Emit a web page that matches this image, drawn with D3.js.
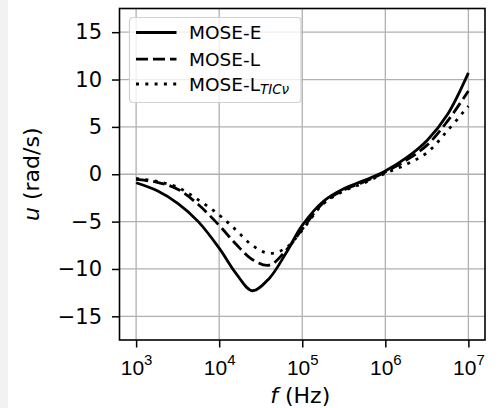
<!DOCTYPE html>
<html>
<head>
<meta charset="utf-8">
<script src="https://cdn.jsdelivr.net/npm/d3@7"></script>
<style>
  html, body { margin: 0; padding: 0; background: #ffffff; }
  svg { display: block; font-family: "DejaVu Sans", sans-serif; }
</style>
</head>
<body>
<svg id="chart" width="502" height="408"></svg>
<script>
// ---- data ----
const freqs = [1e3, 1.8e3, 3.2e3, 5.6e3, 1e4, 1.6e4, 2.5e4, 4e4, 6.3e4, 1e5,
               1.8e5, 3.2e5, 5.6e5, 1e6, 1.8e6, 3.2e6, 5.6e6, 1e7];
const moseE =    [-0.9, -1.75, -3.1, -5.0, -7.8, -10.5, -12.3, -11.0, -8.4, -5.4,
                  -2.85, -1.5, -0.65, 0.35, 1.75, 3.6, 6.3, 10.7];
const moseL =    [-0.55, -0.85, -1.6, -3.2, -5.4, -7.4, -9.0, -9.6, -8.1, -5.8,
                  -3.0, -1.65, -0.8, 0.25, 1.5, 3.1, 5.6, 8.8];
const moseLTIC = [-0.45, -0.75, -1.4, -2.7, -4.3, -5.9, -7.5, -8.35, -7.8, -5.9,
                  -3.1, -1.75, -0.9, 0.1, 1.05, 2.3, 4.6, 7.2];
const xTickExps = [3, 4, 5, 6, 7];
const yTicks = [-15, -10, -5, 0, 5, 10, 15];
const seriesNames = ["MOSE-E", "MOSE-L", "MOSE-L"];
const seriesSub = ["", "", "TICν"];

// ---- layout ----
const svg = d3.select("#chart");
const L = 119.5, R = 485, T = 8.5, B = 340;
const TICK_FS = 21, LEG_FS = 18.5, LAB_FS = 22;

svg.append("rect").attr("x", 0).attr("y", 0).attr("width", 8).attr("height", 408).attr("fill", "#f2f2f2");

const x = d3.scaleLog().domain([Math.pow(10, 2.8), Math.pow(10, 7.2)]).range([L, R]);
const y = d3.scaleLinear().domain([-17.5, 17.5]).range([B, T]);

const xTickVals = xTickExps.map(e => Math.pow(10, e));

// grid
const grid = svg.append("g");
grid.selectAll("line.vx").data(xTickVals).enter().append("line")
  .attr("x1", d => x(d)).attr("x2", d => x(d)).attr("y1", T).attr("y2", B)
  .attr("stroke", "#b0b0b0").attr("stroke-width", 1.3);
grid.selectAll("line.hy").data(yTicks).enter().append("line")
  .attr("x1", L).attr("x2", R).attr("y1", d => y(d)).attr("y2", d => y(d))
  .attr("stroke", "#b0b0b0").attr("stroke-width", 1.3);

// lines
const series = [
  { vals: moseE, dash: null },
  { vals: moseL, dash: "12,5" },
  { vals: moseLTIC, dash: "3,6.3" }
];
const line = d3.line().x(d => x(d[0])).y(d => y(d[1])).curve(d3.curveCatmullRom.alpha(0.5));
svg.append("clipPath").attr("id", "clip").append("rect")
  .attr("x", L).attr("y", T).attr("width", R - L).attr("height", B - T);
const lg = svg.append("g").attr("clip-path", "url(#clip)");
series.forEach(s => {
  lg.append("path")
    .attr("d", line(freqs.map((f, i) => [f, s.vals[i]])))
    .attr("fill", "none").attr("stroke", "#000").attr("stroke-width", 2.8)
    .attr("stroke-dasharray", s.dash);
});

// axes
const xAxis = d3.axisBottom(x).tickValues(xTickVals).tickSize(7.5).tickFormat("");
const gx = svg.append("g").attr("transform", `translate(0,${B})`).call(xAxis);
gx.select(".domain").remove();
gx.selectAll(".tick line").attr("stroke", "#000").attr("stroke-width", 1.5);
gx.selectAll(".tick text").remove();
gx.selectAll(".tick").each(function(d, i) {
  const t = d3.select(this).append("text")
    .attr("y", 35).attr("text-anchor", "middle").attr("fill", "#000")
    .style("font-size", TICK_FS + "px");
  t.append("tspan").text("10");
  t.append("tspan").attr("dy", -10).style("font-size", "15px").text(xTickExps[i]);
});

const yAxis = d3.axisLeft(y).tickValues(yTicks).tickSize(7.5).tickPadding(10)
  .tickFormat(d => d < 0 ? "\u2212" + Math.abs(d) : String(d));
const gy = svg.append("g").attr("transform", `translate(${L},0)`).call(yAxis);
gy.select(".domain").remove();
gy.selectAll(".tick line").attr("stroke", "#000").attr("stroke-width", 1.5);
gy.selectAll(".tick text").attr("fill", "#000").style("font-size", TICK_FS + "px")
  .style("font-family", "DejaVu Sans, sans-serif");

// frame
svg.append("rect").attr("x", L).attr("y", T).attr("width", R - L).attr("height", B - T)
  .attr("fill", "none").attr("stroke", "#000").attr("stroke-width", 1.6);

// axis labels
const xl = svg.append("text").attr("x", (L + R) / 2 - 2).attr("y", 403).attr("text-anchor", "middle")
  .style("font-size", LAB_FS + "px").attr("fill", "#000");
xl.append("tspan").style("font-style", "italic").text("f");
xl.append("tspan").text(" (Hz)");

const yl = svg.append("text").attr("transform", `translate(39,${(T + B) / 2}) rotate(-90)`)
  .attr("text-anchor", "middle").style("font-size", LAB_FS + "px").attr("fill", "#000");
yl.append("tspan").style("font-style", "italic").text("u");
yl.append("tspan").text(" (rad/s)");

// legend
const leg = svg.append("g");
leg.append("rect").attr("x", 129.5).attr("y", 17.5).attr("width", 171.5).attr("height", 85)
  .attr("rx", 3.5).attr("fill", "#fff").attr("fill-opacity", 0.8)
  .attr("stroke", "#d0d0d0").attr("stroke-width", 1.2);
const rowsY = [32.5, 59.2, 84];
series.forEach((s, i) => {
  leg.append("line").attr("x1", 136).attr("x2", 176.5).attr("y1", rowsY[i]).attr("y2", rowsY[i])
    .attr("stroke", "#000").attr("stroke-width", 2.8).attr("stroke-dasharray", s.dash);
  const t = leg.append("text").attr("x", 189).attr("y", rowsY[i] + 6.7)
    .style("font-size", LEG_FS + "px").attr("fill", "#000");
  t.append("tspan").text(seriesNames[i]);
  if (seriesSub[i]) {
    t.append("tspan").attr("dy", 3).style("font-size", "13.5px").style("font-style", "italic").text(seriesSub[i]);
  }
});
</script>
</body>
</html>
